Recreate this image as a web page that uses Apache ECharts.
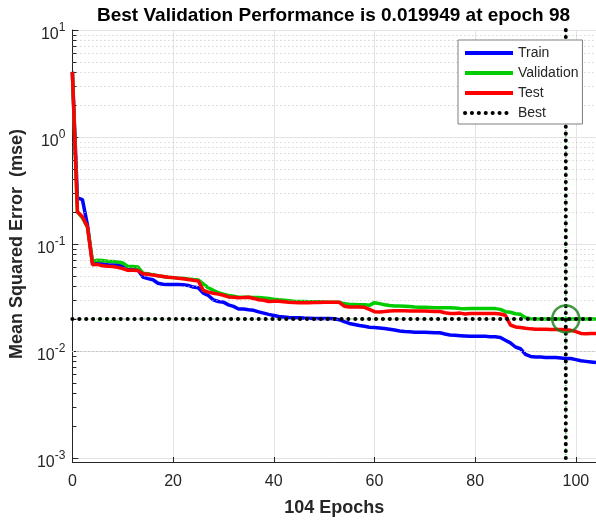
<!DOCTYPE html>
<html>
<head>
<meta charset="utf-8">
<script src="https://cdn.jsdelivr.net/npm/echarts@6/dist/echarts.min.js"></script>
<style>html,body{margin:0;padding:0;background:#fff}#c{width:596px;height:523px}</style>
</head>
<body>
<div id="c"></div>
<script>
// ---- data ----
var epochs = [];
for (var i = 0; i <= 104; i++) epochs.push(i);
var trainPerf = [4.06,0.27,0.26,0.15,0.066,0.0655,0.065,0.064,0.0638,0.0635,
  0.062,0.0586,0.058,0.0574,0.0491,0.0475,0.0463,0.043,0.042,0.0419,
  0.0418,0.0418,0.0417,0.041,0.0396,0.039,0.0347,0.033,0.0301,0.029,
  0.0286,0.027,0.0261,0.0247,0.0247,0.0243,0.024,0.0232,0.0226,0.022,
  0.0215,0.021,0.0208,0.0206,0.0205,0.0205,0.0203,0.0202,0.0201,0.0201,
  0.0201,0.0201,0.0200,0.0196,0.0188,0.0181,0.0177,0.0173,0.017,0.0167,
  0.0166,0.0164,0.0162,0.016,0.0157,0.0154,0.0152,0.0151,0.015,0.015,
  0.015,0.0149,0.0148,0.0148,0.0144,0.0141,0.014,0.0139,0.0138,0.0137,
  0.0137,0.0137,0.0137,0.0136,0.0136,0.0134,0.0126,0.0119,0.0109,0.0105,
  0.0093,0.0089,0.0088,0.0088,0.0087,0.0087,0.0087,0.0086,0.0085,0.0085,
  0.0083,0.0081,0.008,0.0079,0.0078];
var valPerf = [4.06,0.2,0.175,0.144,0.069,0.0704,0.070,0.069,0.0688,0.068,
  0.0665,0.0618,0.0615,0.061,0.0534,0.0528,0.0515,0.0505,0.0498,0.049,
  0.0485,0.048,0.0478,0.047,0.0465,0.0462,0.0425,0.039,0.0369,0.035,
  0.034,0.033,0.0325,0.0318,0.0318,0.0318,0.0316,0.0316,0.0313,0.031,
  0.0305,0.0301,0.0298,0.0295,0.0292,0.029,0.029,0.0289,0.0288,0.0288,
  0.0287,0.0286,0.0286,0.0286,0.0276,0.0273,0.0272,0.0271,0.027,0.0267,
  0.0283,0.0277,0.0271,0.0266,0.0264,0.0263,0.0262,0.026,0.0258,0.0257,
  0.0256,0.0255,0.0254,0.0254,0.0254,0.0254,0.0252,0.0249,0.0248,0.0249,
  0.0249,0.0249,0.0249,0.025,0.0249,0.0245,0.0233,0.023,0.0223,0.022,
  0.0205,0.0200,0.01996,0.01995,0.01995,0.01995,0.01995,0.01995,0.019949,0.01995,
  0.01995,0.01995,0.01995,0.01995,0.01995];
var testPerf = [4.06,0.2,0.18,0.144,0.064,0.0645,0.0625,0.0618,0.0616,0.0605,
  0.0588,0.0568,0.0568,0.0565,0.0528,0.0522,0.0512,0.0506,0.0498,0.049,
  0.0485,0.0478,0.0474,0.0466,0.0458,0.0452,0.0369,0.0355,0.0347,0.034,
  0.0332,0.032,0.0318,0.0315,0.0316,0.0318,0.031,0.0301,0.0298,0.029,
  0.0292,0.0292,0.0289,0.0286,0.0284,0.0282,0.0283,0.0283,0.0284,0.0284,
  0.0285,0.0286,0.0286,0.0285,0.0262,0.0258,0.0258,0.0258,0.0256,0.0245,
  0.0233,0.0232,0.0234,0.0237,0.0238,0.0238,0.0238,0.0237,0.0237,0.0237,
  0.0236,0.0235,0.0234,0.0234,0.0228,0.0224,0.0224,0.0226,0.0222,0.0224,
  0.0224,0.0224,0.0224,0.0224,0.0224,0.0222,0.0216,0.0175,0.0168,0.0166,
  0.0163,0.0161,0.016,0.016,0.016,0.0159,0.0159,0.0159,0.0158,0.0156,
  0.0152,0.0146,0.0145,0.0146,0.0146];
var bestEpoch = 98;
var bestPerf = 0.019949;
var numEpochs = 104;
var yMin = 1e-3, yMax = 10;
var titleText = 'Best Validation Performance is 0.019949 at epoch 98';
var xLabel = '104 Epochs';
var yLabel = 'Mean Squared Error  (mse)';
var seriesNames = ['Train', 'Validation', 'Test', 'Best'];
var seriesColors = ['#0000ff', '#00cc00', '#ff0000', '#000000'];

// ---- build ----
function pairs(ys) { return ys.map(function (v, i) { return [epochs[i], v]; }); }
var minorVals = [];
for (var d = -3; d <= 0; d++) for (var k = 2; k <= 9; k++) minorVals.push(k * Math.pow(10, d));

var FONT = 'Liberation Sans, Arial, Helvetica, sans-serif';
var TXT = '#262626';
var solidLine = function (c) { return {color: c, width: 3.5}; };
var bestLine = {color: '#000', width: 4, type: [0.1, 6.8], cap: 'round'};
var legendData = seriesNames.map(function (n, i) {
  return {name: n, lineStyle: i === 3 ? bestLine : {color: seriesColors[i], width: 4}};
});

var chart = echarts.init(document.getElementById('c'), null, {renderer: 'canvas'});
chart.setOption({
  animation: false,
  backgroundColor: '#fff',
  title: {
    text: titleText, left: 92, top: 1,
    textStyle: {fontFamily: FONT, fontSize: 19, fontWeight: 'bold', color: '#000'}
  },
  legend: {
    data: legendData, orient: 'vertical', left: 458, top: 40,
    padding: [6, 4, 4, 5], itemGap: 6, itemWidth: 48, itemHeight: 14,
    backgroundColor: '#fff', borderColor: '#7f7f7f', borderWidth: 1,
    itemStyle: {opacity: 0, borderWidth: 0},
    textStyle: {fontFamily: FONT, fontSize: 14, color: TXT}, z: 20
  },
  grid: {left: 70, top: 30, width: 527, height: 428, containLabel: false},
  xAxis: {
    type: 'value', min: 0, max: numEpochs, interval: 20, offset: 4,
    name: xLabel, nameLocation: 'middle', nameGap: 37,
    nameTextStyle: {fontFamily: FONT, fontSize: 18, fontWeight: 'bold', color: TXT},
    axisLine: {lineStyle: {color: TXT, width: 1}},
    axisTick: {inside: true, length: 5, lineStyle: {color: TXT}},
    axisLabel: {fontFamily: FONT, fontSize: 16, color: TXT, margin: 12, showMaxLabel: false,
      formatter: function (v) { return v % 20 === 0 ? String(v) : ''; }},
    splitLine: {show: true, lineStyle: {color: '#e3e3e3', width: 1}}
  },
  yAxis: {
    type: 'log', logBase: 10, min: yMin, max: yMax,
    name: yLabel, nameLocation: 'middle', nameGap: 42, nameRotate: 90,
    nameTextStyle: {fontFamily: FONT, fontSize: 18, fontWeight: 'bold', color: TXT},
    axisLine: {show: true, lineStyle: {color: TXT, width: 1}},
    axisTick: {inside: true, length: 6, lineStyle: {color: TXT}},
    axisLabel: {
      margin: 7, color: TXT, padding: [4, 0, 0, 0],
      formatter: function (v) {
        var e = Math.round(Math.log(v) / Math.LN10);
        return '{b|10}{e|' + e + '}';
      },
      rich: {
        b: {fontFamily: FONT, fontSize: 16, color: TXT, lineHeight: 21, verticalAlign: 'bottom'},
        e: {fontFamily: FONT, fontSize: 12, color: TXT, lineHeight: 21, verticalAlign: 'top'}
      }
    },
    splitLine: {show: true, lineStyle: {color: '#e3e3e3', width: 1}}
  },
  series: [
    {
      name: 'minor', type: 'line', data: [], silent: true,
      markLine: {
        silent: true, symbol: 'none', label: {show: false},
        lineStyle: {type: [1, 3], color: '#c4c4c4', width: 1},
        data: minorVals.map(function (v) { return {yAxis: v}; })
      }
    },
    {
      name: 'minorTicks', type: 'line', data: [], silent: true,
      markLine: {
        silent: true, symbol: 'none', label: {show: false},
        lineStyle: {type: 'solid', color: TXT, width: 1},
        data: minorVals.map(function (v) { return [{coord: [0, v]}, {coord: [0.8, v]}]; })
      }
    },
    {
      name: 'bestGuide', type: 'line', symbol: 'none', silent: true, z: 3,
      lineStyle: {color: '#00cc00', width: 1, type: [1, 2]},
      data: [[0, bestPerf], [numEpochs, bestPerf], [numEpochs, '-'], [bestEpoch, yMin], [bestEpoch, yMax]]
    },
    {name: 'Train', type: 'line', symbol: 'none', z: 4, data: pairs(trainPerf),
      lineStyle: solidLine(seriesColors[0]), itemStyle: {color: seriesColors[0]}},
    {name: 'Validation', type: 'line', symbol: 'none', z: 4, data: pairs(valPerf),
      lineStyle: solidLine(seriesColors[1]), itemStyle: {color: seriesColors[1]}},
    {name: 'Test', type: 'line', symbol: 'none', z: 5, data: pairs(testPerf),
      lineStyle: solidLine(seriesColors[2]), itemStyle: {color: seriesColors[2]}},
    {name: 'Best', type: 'line', symbol: 'none', z: 6,
      lineStyle: bestLine, itemStyle: {color: '#000'},
      data: [[0, bestPerf], [numEpochs, bestPerf], [numEpochs, '-'], [bestEpoch, yMin], [bestEpoch, yMax]]},
    {name: 'bestCircle', type: 'scatter', z: 7, silent: true,
      symbol: 'circle', symbolSize: 27,
      itemStyle: {color: 'rgba(0,0,0,0)', borderColor: '#167d16', borderWidth: 2.5},
      data: [[bestEpoch, bestPerf]]}
  ]
});
</script>
</body>
</html>
